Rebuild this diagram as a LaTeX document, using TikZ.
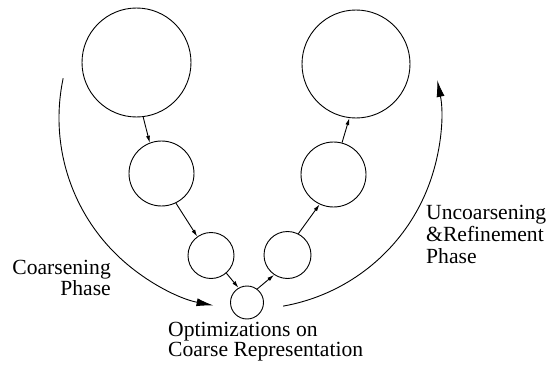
\documentclass[tikz,border=0pt]{standalone}
\usepackage{fontspec}
\setmainfont{Liberation Serif}
\usetikzlibrary{arrows.meta}

\begin{document}
\begin{tikzpicture}[x=1pt,y=1pt,
  level/.style={draw,circle,inner sep=0pt,line width=0.9pt},
  edge/.style={line width=0.9pt,-{Latex[length=7pt,width=4pt]}},
  phase/.style={line width=0.9pt,-{Latex[length=17pt,width=8pt]}},
  txt/.style={inner sep=0pt,font=\fontsize{21.6}{#1}\selectfont}]
\useasboundingbox (0,0) rectangle (550,368);

% coarsening side
\node[level,minimum size=109pt] (g0) at (136.5,305.5) {};
\node[level,minimum size=65pt] (g1) at (161.5,194.5) {};
\node[level,minimum size=46pt] (g2) at (211,112.5) {};
% coarsest graph
\node[level,minimum size=33pt] (g3) at (247,65.5) {};
% uncoarsening side
\node[level,minimum size=47pt] (r2) at (287.5,113) {};
\node[level,minimum size=65pt] (r1) at (333.5,193.5) {};
\node[level,minimum size=108pt] (r0) at (356,304) {};

\draw[edge] (g0.-83) -- (g1.111);
\draw[edge] (g1.-64) -- (g2.126);
\draw[edge] (g2.-49) -- (g3.120);
\draw[edge] (g3.53) -- (r2.-124);
\draw[edge] (r2.63) -- (r1.-115);
\draw[edge] (r1.75) -- (r0.-97);

% the two phase arcs
\coordinate (hub) at (250,250);
\draw[phase] ([shift={(168:191)}]hub) arc[start angle=168, end angle=259, radius=191];
\draw[phase] ([shift={(-80:191)}]hub) arc[start angle=-80, end angle=11.5, radius=191];

\node[txt=16.5,align=right,anchor=north east] (coarse) at (111,108) {Coarsening\\Phase};
\node[txt=19.5,align=left,anchor=north west] (opt) at (168,46) {Optimizations on\\Coarse Representation};
\node[txt=21.7,align=left,anchor=north west] (refine) at (426,162.7) {Uncoarsening\\\&Refinement\\Phase};
\end{tikzpicture}
\end{document}
